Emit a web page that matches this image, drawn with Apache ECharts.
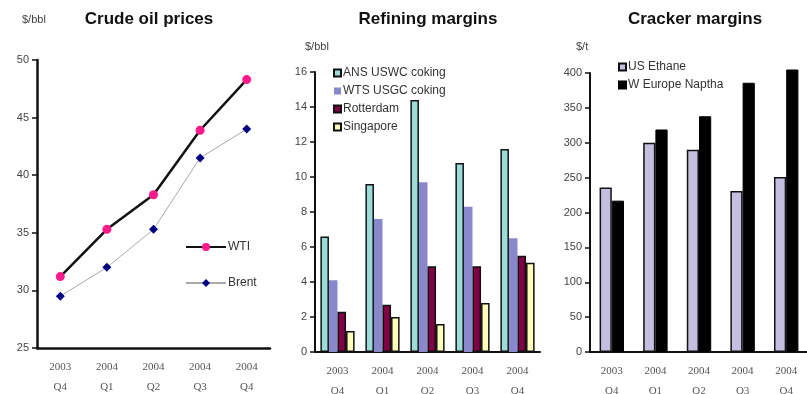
<!DOCTYPE html>
<html>
<head>
<meta charset="utf-8">
<script src="https://cdn.jsdelivr.net/npm/echarts@6/dist/echarts.min.js"></script>
<style>
  html, body { margin: 0; padding: 0; background: #fff; }
  #canvas { width: 807px; height: 394px; }
</style>
</head>
<body>
<div id="canvas"></div>
<script>
// data
var quarters = ['2003\nQ4', '2004\nQ1', '2004\nQ2', '2004\nQ3', '2004\nQ4'];

var wti   = [31.2, 35.3, 38.3, 43.9, 48.3];
var brent = [29.5, 32.0, 35.3, 41.5, 44.0];

var ansUswc   = [6.6, 9.6, 14.4, 10.8, 11.6];
var wtsUsgc   = [4.1, 7.6, 9.7, 8.3, 6.5];
var rotterdam = [2.3, 2.7, 4.9, 4.9, 5.5];
var singapore = [1.2, 2.0, 1.6, 2.8, 5.1];

var usEthane  = [236, 300, 290, 231, 251];
var wEurNap   = [217, 319, 338, 386, 405];

var crudeTicks    = [25, 50, 5];
var refiningTicks = [0, 16, 2];
var crackerTicks  = [0, 400, 50];

var myChart = echarts.init(document.getElementById('canvas'));

function xAxisFor(gridIndex, lw) {
  return {
    type: 'category',
    gridIndex: gridIndex,
    data: quarters,
    boundaryGap: true,
    axisLine: { lineStyle: { color: '#111', width: lw } },
    axisTick: { alignWithLabel: false, length: 5, lineStyle: { color: '#111', width: 1.5 } },
    axisLabel: {
      margin: 9, fontFamily: 'Liberation Serif', fontSize: 11,
      color: '#555', lineHeight: 20
    }
  };
}

function yAxisFor(gridIndex, t, lw) {
  return {
    type: 'value',
    gridIndex: gridIndex,
    min: t[0], max: t[1], interval: t[2],
    splitLine: { show: false },
    axisLine: { show: true, lineStyle: { color: '#111', width: lw } },
    axisTick: { show: true, length: 5, lineStyle: { color: '#111', width: 1.5 } },
    axisLabel: { margin: 8, fontFamily: 'Liberation Sans', fontSize: 11, color: '#444' }
  };
}

var titleFont = { fontFamily: 'Liberation Sans', fontSize: 17, fontWeight: 'bold', color: '#111' };
var unitFont  = { fontFamily: 'Liberation Sans', fontSize: 11, fontWeight: 'normal', color: '#444' };
var legendFont = { fontFamily: 'Liberation Sans', fontSize: 12, color: '#333' };

var barBorder = { borderColor: '#111', borderWidth: 1.5 };

var option = {
  animation: false,
  backgroundColor: '#fff',
  title: [
    { text: 'Crude oil prices', left: 149, top: 11, padding: 0, textAlign: 'center', textStyle: titleFont },
    { text: '$/bbl', left: 22, top: 14, padding: 0, textStyle: unitFont },
    { text: 'Refining margins', left: 428, top: 11, padding: 0, textAlign: 'center', textStyle: titleFont },
    { text: '$/bbl', left: 305, top: 41, padding: 0, textStyle: unitFont },
    { text: 'Cracker margins', left: 695, top: 11, padding: 0, textAlign: 'center', textStyle: titleFont },
    { text: '$/t', left: 576, top: 41, padding: 0, textStyle: unitFont }
  ],
  legend: [
    {
      data: ['WTI', 'Brent'],
      orient: 'vertical', left: 185, top: 241, padding: 0,
      itemWidth: 40, itemHeight: 10, itemGap: 24,
      textStyle: Object.assign({ padding: [0, 0, 0, -3] }, legendFont)
    },
    {
      data: ['ANS USWC coking', 'WTS USGC coking', 'Rotterdam', 'Singapore'],
      orient: 'vertical', left: 333, top: 67, padding: 0,
      icon: 'rect', itemWidth: 7, itemHeight: 7, itemGap: 6,
      textStyle: Object.assign({ padding: [0, 0, 0, -3] }, legendFont)
    },
    {
      data: ['US Ethane', 'W Europe Naptha'],
      orient: 'vertical', left: 618, top: 61, padding: 0,
      icon: 'rect', itemWidth: 7, itemHeight: 7, itemGap: 6,
      textStyle: Object.assign({ padding: [0, 0, 0, -3] }, legendFont)
    }
  ],
  grid: [
    { left: 37, top: 60, width: 233, height: 288, outerBoundsMode: 'none' },
    { left: 315, top: 72, width: 225, height: 280, outerBoundsMode: 'none' },
    { left: 590, top: 73, width: 218, height: 279, outerBoundsMode: 'none' }
  ],
  xAxis: [xAxisFor(0, 2.5), xAxisFor(1, 2), xAxisFor(2, 2)],
  yAxis: [yAxisFor(0, crudeTicks, 2.5), yAxisFor(1, refiningTicks, 2), yAxisFor(2, crackerTicks, 2)],
  series: [
    {
      name: 'WTI', type: 'line', xAxisIndex: 0, yAxisIndex: 0,
      data: wti, symbol: 'circle', symbolSize: 9,
      lineStyle: { color: '#111', width: 2.5 },
      itemStyle: { color: '#ff1a8c', borderWidth: 0 }
    },
    {
      name: 'Brent', type: 'line', xAxisIndex: 0, yAxisIndex: 0,
      data: brent, symbol: 'diamond', symbolSize: 9,
      lineStyle: { color: '#aaa', width: 1 },
      itemStyle: { color: '#000080', borderWidth: 0 }
    },
    {
      name: 'ANS USWC coking', type: 'bar', xAxisIndex: 1, yAxisIndex: 1,
      data: ansUswc, barGap: '0%', barCategoryGap: '24%',
      itemStyle: Object.assign({ color: '#99dcd8' }, barBorder)
    },
    {
      name: 'WTS USGC coking', type: 'bar', xAxisIndex: 1, yAxisIndex: 1,
      data: wtsUsgc, barGap: '0%', barCategoryGap: '24%',
      itemStyle: { color: '#8a88cc' }
    },
    {
      name: 'Rotterdam', type: 'bar', xAxisIndex: 1, yAxisIndex: 1,
      data: rotterdam, barGap: '0%', barCategoryGap: '24%',
      itemStyle: Object.assign({ color: '#800045' }, barBorder)
    },
    {
      name: 'Singapore', type: 'bar', xAxisIndex: 1, yAxisIndex: 1,
      data: singapore, barGap: '0%', barCategoryGap: '24%',
      itemStyle: Object.assign({ color: '#ffffbb' }, barBorder)
    },
    {
      name: 'US Ethane', type: 'bar', xAxisIndex: 2, yAxisIndex: 2,
      data: usEthane, barGap: '0%', barCategoryGap: '44%',
      itemStyle: Object.assign({ color: '#c4bfe0' }, barBorder)
    },
    {
      name: 'W Europe Naptha', type: 'bar', xAxisIndex: 2, yAxisIndex: 2,
      data: wEurNap, barGap: '0%', barCategoryGap: '44%', clip: false,
      itemStyle: { color: '#000', borderColor: '#000', borderWidth: 1 }
    }
  ]
};

myChart.setOption(option);
window.onresize = myChart.resize;
</script>
</body>
</html>
